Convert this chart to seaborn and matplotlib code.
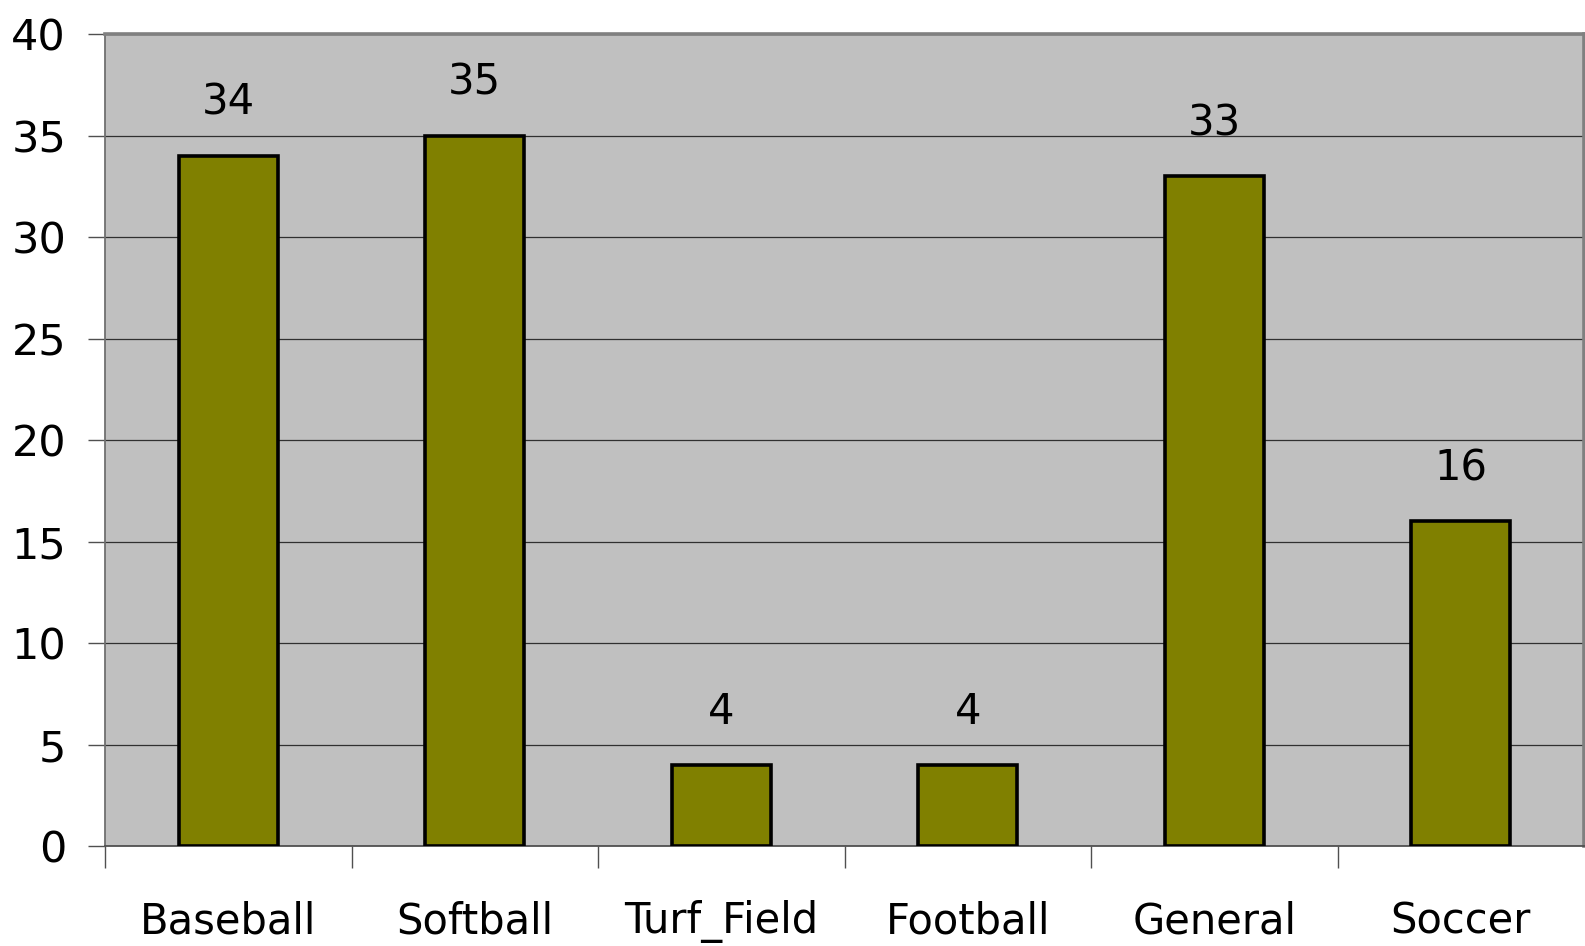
import matplotlib
matplotlib.use("Agg")
import matplotlib.pyplot as plt
import seaborn as sns
import pandas as pd
import numpy as np

categories = ["Baseball", "Softball", "Turf_Field", "Football", "General", "Soccer"]
values = [34, 35, 4, 4, 33, 16]
yticks = [0, 5, 10, 15, 20, 25, 30, 35, 40]

sns.set_style("white")
plt.rcParams['font.family'] = ['DejaVu Sans']
plt.rcParams['text.color'] = 'black'
plt.rcParams['xtick.color'] = 'black'
plt.rcParams['ytick.color'] = 'black'

df = pd.DataFrame({"cat": categories, "val": values})

fig = plt.figure(figsize=(15.85, 9.46), dpi=100)
left, right, top, bottom = 105, 1584, 34, 846
ax = fig.add_axes([left/1585, 1-bottom/946, (right-left)/1585, (bottom-top)/946])
ax.set_facecolor("#C0C0C0")

sns.barplot(data=df, x="cat", y="val", color="#808000", saturation=1,
            edgecolor="black", linewidth=2.6, width=0.4, ax=ax, zorder=3)

ax.set_xlim(-0.5, 5.5)
ax.set_ylim(0, 40)
ax.set_yticks(yticks)
ax.yaxis.grid(True, color="#303030", linewidth=0.9, zorder=1)
ax.set_axisbelow(True)
ax.set_xlabel("")
ax.set_ylabel("")

for c in ax.containers:
    ax.bar_label(c, padding=23, fontsize=30, color="black")

ax.tick_params(axis="y", which="major", length=12, width=1, color="#505050",
               labelsize=31, pad=16, left=True, labelcolor="black")
ax.set_xticks(range(len(categories)))
ax.set_xticklabels(categories)
ax.tick_params(axis="x", which="major", length=0, labelsize=30, pad=39,
               labelcolor="black")
ax.set_xticks(np.arange(-0.5, 5.0, 1.0), minor=True)
ax.tick_params(axis="x", which="minor", length=16, width=1, color="#505050",
               bottom=True)

for s in ["top", "right"]:
    ax.spines[s].set_color("#808080")
    ax.spines[s].set_linewidth(2.6)
ax.spines["left"].set_color("#707070")
ax.spines["left"].set_linewidth(1.3)
ax.spines["bottom"].set_color("#505050")
ax.spines["bottom"].set_linewidth(1.3)

fig.savefig("out.png", dpi=100)
